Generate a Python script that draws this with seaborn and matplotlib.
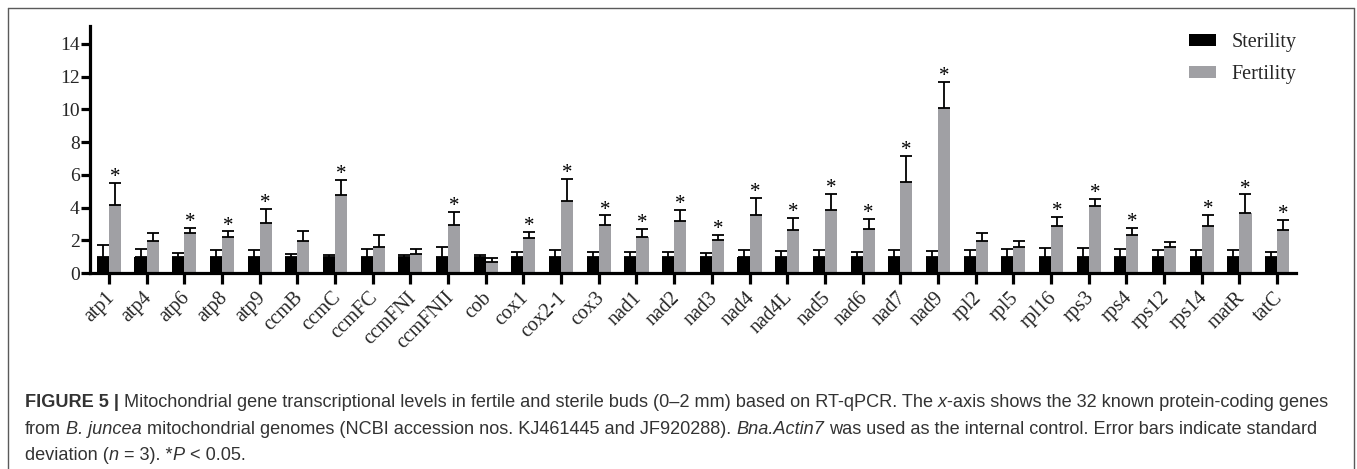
import matplotlib
matplotlib.use("Agg")
import matplotlib.pyplot as plt
import seaborn as sns
import pandas as pd
import numpy as np
from matplotlib.lines import Line2D
from matplotlib.patches import Patch
from matplotlib.transforms import ScaledTranslation
from matplotlib.font_manager import FontProperties

genes = ["atp1", "atp4", "atp6", "atp8", "atp9", "ccmB", "ccmC", "ccmFC", "ccmFNI", "ccmFNII",
         "cob", "cox1", "cox2-1", "cox3", "nad1", "nad2", "nad3", "nad4", "nad4L", "nad5",
         "nad6", "nad7", "nad9", "rpl2", "rpl5", "rpl16", "rps3", "rps4", "rps12", "rps14",
         "matR", "tatC"]
sterility_mean = [1.0] * 32
sterility_sd = [0.69, 0.46, 0.22, 0.40, 0.38, 0.18, 0.08, 0.44, 0.12, 0.61,
                0.08, 0.26, 0.40, 0.26, 0.26, 0.26, 0.22, 0.40, 0.36, 0.40,
                0.26, 0.40, 0.34, 0.40, 0.46, 0.54, 0.50, 0.48, 0.40, 0.40,
                0.40, 0.26]
fertility_mean = [4.13, 1.93, 2.44, 2.22, 3.07, 1.93, 4.74, 1.61, 1.18, 2.93,
                  0.69, 2.13, 4.41, 2.93, 2.22, 3.19, 2.03, 3.54, 2.64, 3.84,
                  2.66, 5.59, 10.06, 1.93, 1.59, 2.89, 4.11, 2.30, 1.59, 2.89,
                  3.64, 2.64]
fertility_sd = [1.38, 0.53, 0.30, 0.32, 0.85, 0.65, 0.97, 0.73, 0.26, 0.79,
                0.22, 0.37, 1.34, 0.59, 0.50, 0.65, 0.29, 1.07, 0.73, 1.00,
                0.67, 1.58, 1.63, 0.49, 0.34, 0.54, 0.42, 0.48, 0.28, 0.67,
                1.16, 0.59]
significant = [1, 0, 1, 1, 1, 0, 1, 0, 0, 1,
               0, 1, 1, 1, 1, 1, 1, 1, 1, 1,
               1, 1, 1, 0, 0, 1, 1, 1, 0, 1,
               1, 1]
groups = ["Sterility", "Fertility"]
colors = ["#000000", "#a0a0a4"]

# caption pieces: (text, style)  style: n=normal, b=bold, i=italic
caption_lines = [
    [("FIGURE 5 |", "b"), (" Mitochondrial gene transcriptional levels in fertile and sterile buds (0–2 mm) based on RT-qPCR. The ", "n"),
     ("x", "i"), ("-axis shows the 32 known protein-coding genes", "n")],
    [("from ", "n"), ("B. juncea", "i"), (" mitochondrial genomes (NCBI accession nos. KJ461445 and JF920288). ", "n"),
     ("Bna.Actin7", "i"), (" was used as the internal control. Error bars indicate standard", "n")],
    [("deviation (", "n"), ("n", "i"), (" = 3). *", "n"), ("P", "i"), (" < 0.05.", "n")],
]

sns.set_style("white")
plt.rcParams["font.family"] = ["Liberation Serif", "DejaVu Serif"]

df = pd.DataFrame({
    "gene": genes * 2,
    "group": ["Sterility"] * 32 + ["Fertility"] * 32,
    "value": sterility_mean + fertility_mean,
})

W, H = 1357, 469
fig = plt.figure(figsize=(W / 100, H / 100), dpi=100)
ax = fig.add_axes([90 / W, 1 - 273 / H, (1296 - 90) / W, (273 - 26) / H])

sns.barplot(data=df, x="gene", y="value", hue="group", order=genes, hue_order=groups,
            palette=colors, width=0.64, gap=0, errorbar=None, linewidth=0,
            saturation=1, legend=False, ax=ax)

bar_conts = list(ax.containers)[:2]
sds = [sterility_sd, fertility_sd]
for ci, cont in enumerate(bar_conts):
    xs = [p.get_x() + p.get_width() / 2 for p in cont.patches]
    hs = [p.get_height() for p in cont.patches]
    ax.errorbar(xs, hs, yerr=[np.zeros(len(hs)), sds[ci]], fmt="none",
                ecolor="black", elinewidth=1.3, capsize=4, capthick=1.3, zorder=3)
    if ci == 1:
        for x, h, s, sig in zip(xs, hs, sds[ci], significant):
            if sig:
                ax.annotate("*", (x, h + s), xytext=(0, -3), textcoords="offset points",
                            ha="center", va="bottom", fontsize=15, color="black")

ax.set_xlim(-0.5, 31.5)
ax.set_ylim(0, 15.1)
ax.set_yticks([0, 2, 4, 6, 8, 10, 12, 14])
ax.set_xlabel("")
ax.set_ylabel("")
sns.despine(ax=ax)
for s in ["left", "bottom"]:
    ax.spines[s].set_linewidth(2.3)
    ax.spines[s].set_color("black")
ax.tick_params(axis="y", direction="out", length=6.5, width=2.3, labelsize=14, pad=1, left=True, color="black")
ax.tick_params(axis="x", direction="out", length=8, width=2.3, labelsize=14.5, pad=0, bottom=True, color="black")
offset = ScaledTranslation(6 / 100, -14 / 100, fig.dpi_scale_trans)
for lab in ax.get_xticklabels():
    lab.set_rotation(45)
    lab.set_ha("right")
    lab.set_va("baseline")
    lab.set_rotation_mode("anchor")
    lab.set_transform(lab.get_transform() + offset)

handles = [Patch(facecolor=c, edgecolor="none") for c in colors]
ax.legend(handles, groups, loc="upper left", bbox_to_anchor=(1189 / W, 1 - 33 / H),
          bbox_transform=fig.transFigure, frameon=False, fontsize=14.5,
          handlelength=1.35, handleheight=0.57, handletextpad=0.75, labelspacing=0.65,
          borderpad=0, borderaxespad=0)

# outer frame
fc = "#5a5a5a"
fig.add_artist(Line2D([8 / W, 1354 / W], [1 - 8 / H, 1 - 8 / H], transform=fig.transFigure, color=fc, lw=1))
fig.add_artist(Line2D([8 / W, 8 / W], [0, 1 - 8 / H], transform=fig.transFigure, color=fc, lw=1))
fig.add_artist(Line2D([1354 / W, 1354 / W], [0, 1 - 8 / H], transform=fig.transFigure, color=fc, lw=1))

# caption
renderer = fig.canvas.get_renderer()
styles = {"n": dict(weight="normal", style="normal"),
          "b": dict(weight="bold", style="normal"),
          "i": dict(weight="normal", style="italic")}


def prop_for(style, size):
    return FontProperties(family="Liberation Sans", size=size, **styles[style])


def measure(s, style, size):
    p = prop_for(style, size)
    core = s.strip(" ")
    nsp = len(s) - len(core)
    wc = renderer.get_text_width_height_descent(core, p, ismath=False)[0] if core else 0
    w2 = renderer.get_text_width_height_descent("a a", p, ismath=False)[0]
    w1 = renderer.get_text_width_height_descent("aa", p, ismath=False)[0]
    return wc + nsp * (w2 - w1)


base = 13.0
total = sum(measure(t, st, base) for t, st in caption_lines[0])
cap_size = base * (1327 - 25) / total

baselines = [407, 434, 460]
for line, yb in zip(caption_lines, baselines):
    x = 25.0
    for txt, st in line:
        lead = len(txt) - len(txt.lstrip(" "))
        sp = measure(" " * lead, st, cap_size) if lead else 0
        core = txt.strip(" ")
        fig.text((x + sp) / W, 1 - yb / H, core, fontproperties=prop_for(st, cap_size),
                 color="#333333", ha="left", va="baseline")
        x += measure(txt, st, cap_size)

fig.savefig("out.png", dpi=100)
